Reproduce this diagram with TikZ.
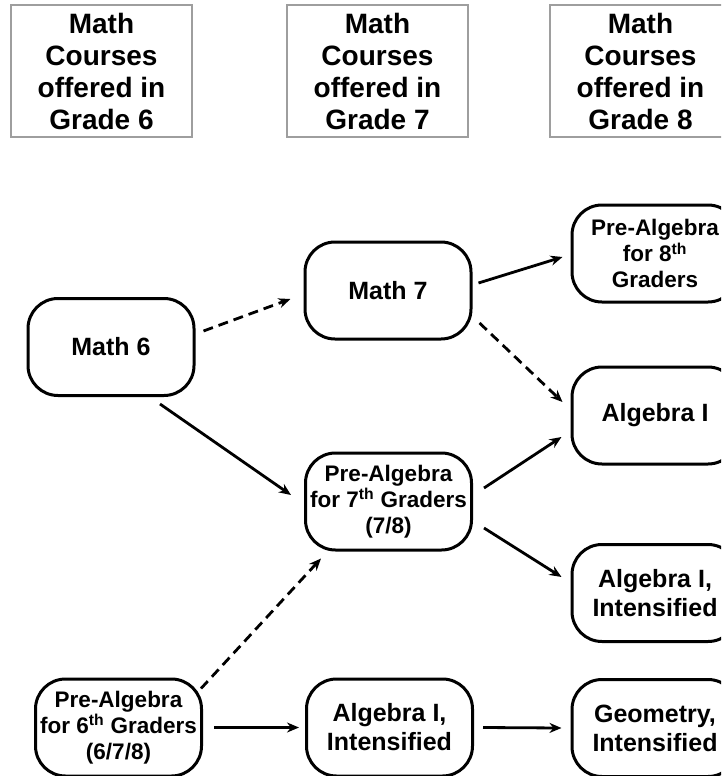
\documentclass[tikz,border=0pt]{standalone}
\usepackage{fontspec}
\setmainfont{Liberation Sans}
\usetikzlibrary{arrows.meta}
\begin{document}
\begin{tikzpicture}[x=1pt,y=-1pt,
  hdr/.style={draw=black!38, line width=2pt, minimum width=181pt, minimum height=132pt, inner sep=0pt, align=center, font=\bfseries\fontsize{28}{32}\selectfont},
  course/.style={draw=black, line width=3pt, rounded corners=30pt, minimum width=166pt, minimum height=97pt, inner sep=0pt, align=center},
  big/.style={course, font=\bfseries\fontsize{25}{29}\selectfont},
  small/.style={course, font=\bfseries\fontsize{22.5}{26}\selectfont},
  conn/.style={line width=2.8pt, -{Stealth[length=12pt,width=10pt]}},
  dconn/.style={conn, dash pattern=on 10pt off 6pt}]
\useasboundingbox (0,0) rectangle (721,776);
\fill[white] (0,0) rectangle (721,776);
\clip (0,0) rectangle (721,776);

% headers
\node[hdr] (h6) at (101.5,71) {Math\\Courses\\offered in\\Grade 6};
\node[hdr] (h7) at (377.5,71) {Math\\Courses\\offered in\\Grade 7};
\node[hdr] (h8) at (640.5,71) {Math\\Courses\\offered in\\Grade 8};

% course nodes
\node[big] (m6) at (111,347) {Math 6};
\node[big] (m7) at (388,290.5) {Math 7};
\node[small] (pa7) at (388.5,501.5) {Pre-Algebra\\for 7\textsuperscript{th} Graders\\(7/8)};
\node[small] (pa6) at (118.5,727.5) {Pre-Algebra\\for 6\textsuperscript{th} Graders\\(6/7/8)};
\node[big] (ai6) at (389.5,727.5) {Algebra I,\\Intensified};
\node[small] (pa8) at (655,253.5) {Pre-Algebra\\for 8\textsuperscript{th}\\Graders};
\node[big] (a1) at (655,415.5) {Algebra I};
\node[big] (a1i) at (655,593) {Algebra I,\\Intensified};
\node[big] (geo) at (655,728) {Geometry,\\Intensified};

% connectors
\draw[dconn] ([shift={(8,-16)}]m6.east) -- ([shift={(-13,8.5)}]m7.west);
\draw[conn] ([shift={(49,7)}]m6.south) -- ([shift={(-13,-6.5)}]pa7.west);
\draw[conn] ([shift={(6,-7.5)}]m7.east) -- ([shift={(-8,3.5)}]pa8.west);
\draw[dconn] ([shift={(7,32.5)}]m7.east) -- ([shift={(-8,-13.5)}]a1.west);
\draw[conn] ([shift={(11,-13.5)}]pa7.east) -- ([shift={(-9,21.5)}]a1.west);
\draw[conn] ([shift={(11,26.5)}]pa7.east) -- ([shift={(-9,-16)}]a1i.west);
\draw[dconn] ([shift={(-2,11)}]pa6.north east) -- ([shift={(17,7)}]pa7.south west);
\draw[conn] ([shift={(11,0)}]pa6.east) -- ([shift={(-6,0)}]ai6.west);
\draw[conn] ([shift={(9,0)}]ai6.east) -- ([shift={(-9,0)}]geo.west);
\end{tikzpicture}
\end{document}
